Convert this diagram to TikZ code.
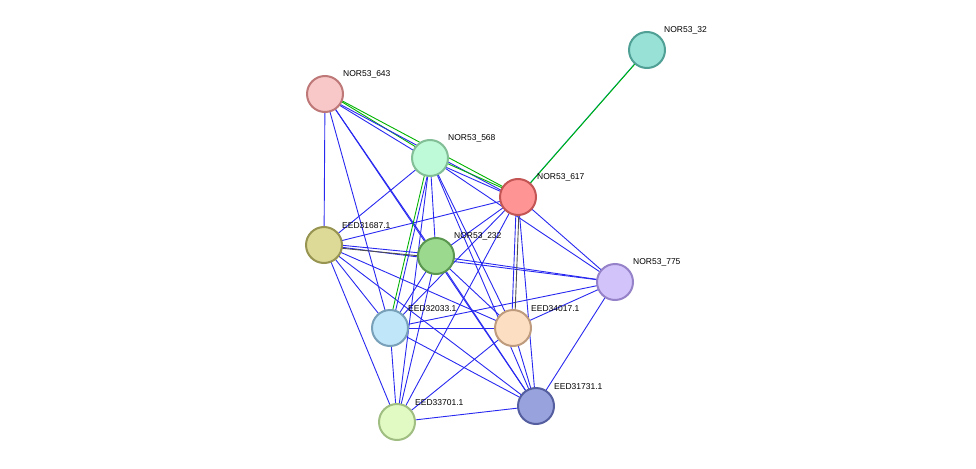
\documentclass[tikz,border=0pt]{standalone}
\usepackage{fontspec}
\setmainfont{Liberation Sans}
\begin{document}
\begin{tikzpicture}[x=1pt,y=-1pt,
 nd/.style={circle,minimum size=36pt,inner sep=0pt,line width=2pt},
 lb/.style={font=\fontsize{8.5}{9}\selectfont,anchor=south west,inner sep=1pt},
 e/.style={blue!85!white,line width=1pt}]
\useasboundingbox (0,0) rectangle (976,468);
\definecolor{bl}{RGB}{40,40,240}
\tikzset{e/.style={bl,line width=0.9pt}}
\coordinate (n32) at (647,50);
\coordinate (n643) at (325,94);
\coordinate (n568) at (430,158);
\coordinate (n617) at (518,197);
\coordinate (n687) at (324,245);
\coordinate (n232) at (436,256);
\coordinate (n775) at (615,282);
\coordinate (n033) at (390,328);
\coordinate (n017) at (513,328);
\coordinate (n731) at (536,406);
\coordinate (n701) at (397,422);
% edges
\foreach \a/\b in {643/687,643/232,643/033,643/731,568/687,568/232,568/701,568/017,568/731,568/775,617/687,617/232,617/033,617/731,617/775,617/701,687/775,687/033,687/017,687/731,687/701,232/775,232/033,232/017,232/731,232/701,775/033,775/017,775/731,033/017,033/731,033/701,017/701,017/731,701/731}
  \draw[e] (n\a) -- (n\b);
\draw[bl,line width=0.9pt,transform canvas={shift={(-1.5pt,-1.5pt)}}] (n643) -- (n568);
\draw[green!70!black,line width=0.9pt,transform canvas={shift={(1.5pt,1.5pt)}}] (n643) -- (n568);
\draw[bl,line width=0.9pt,transform canvas={shift={(-1.5pt,-1.5pt)}}] (n643) -- (n617);
\draw[green!70!black,line width=0.9pt,transform canvas={shift={(1.5pt,1.5pt)}}] (n643) -- (n617);
\draw[bl,line width=0.9pt,transform canvas={shift={(-1.5pt,-1.5pt)}}] (n568) -- (n617);
\draw[green!70!black,line width=0.9pt,transform canvas={shift={(1.5pt,1.5pt)}}] (n568) -- (n617);
\draw[cyan!80!blue,line width=0.9pt,transform canvas={shift={(-1.5pt,-1.5pt)}}] (n32) -- (n617);
\draw[green!70!black,line width=0.9pt,transform canvas={shift={(1.5pt,1.5pt)}}] (n32) -- (n617);
\draw[green!70!black,line width=0.9pt,transform canvas={shift={(-1.5pt,0pt)}}] (n568) -- (n033);
\draw[bl,line width=0.9pt,transform canvas={shift={(1.5pt,0pt)}}] (n568) -- (n033);
\draw[bl,line width=0.9pt,transform canvas={shift={(-1.5pt,0pt)}}] (n617) -- (n017);
\draw[black!70,line width=0.9pt,transform canvas={shift={(1.5pt,0pt)}}] (n617) -- (n017);
\draw[black!70,line width=0.9pt,transform canvas={shift={(0pt,-1.5pt)}}] (n687) -- (n232);
\draw[bl,line width=0.9pt,transform canvas={shift={(0pt,1.5pt)}}] (n687) -- (n232);
% nodes
\node[nd,fill={rgb,255:red,152;green,225;blue,215},draw={rgb,255:red,80;green,160;blue,150}] (a32) at (n32) {};
\node[nd,fill={rgb,255:red,248;green,200;blue,200},draw={rgb,255:red,190;green,120;blue,120}] (a643) at (n643) {};
\node[nd,fill={rgb,255:red,190;green,250;blue,215},draw={rgb,255:red,130;green,190;blue,150}] (a568) at (n568) {};
\node[nd,fill={rgb,255:red,255;green,148;blue,148},draw={rgb,255:red,195;green,85;blue,85}] (a617) at (n617) {};
\node[nd,fill={rgb,255:red,220;green,218;blue,150},draw={rgb,255:red,150;green,148;blue,80}] (a687) at (n687) {};
\node[nd,fill={rgb,255:red,155;green,218;blue,142},draw={rgb,255:red,90;green,150;blue,80}] (a232) at (n232) {};
\node[nd,fill={rgb,255:red,210;green,195;blue,250},draw={rgb,255:red,150;green,130;blue,200}] (a775) at (n775) {};
\node[nd,fill={rgb,255:red,192;green,230;blue,250},draw={rgb,255:red,120;green,160;blue,185}] (a033) at (n033) {};
\node[nd,fill={rgb,255:red,252;green,222;blue,195},draw={rgb,255:red,190;green,155;blue,125}] (a017) at (n017) {};
\node[nd,fill={rgb,255:red,152;green,162;blue,220},draw={rgb,255:red,85;green,95;blue,160}] (a731) at (n731) {};
\node[nd,fill={rgb,255:red,225;green,250;blue,195},draw={rgb,255:red,160;green,190;blue,130}] (a701) at (n701) {};
% labels
\node[lb] (l32) at (663,35) {NOR53\_32};
\node[lb] (l643) at (342,79) {NOR53\_643};
\node[lb] (l568) at (447,143) {NOR53\_568};
\node[lb] (l617) at (536,182) {NOR53\_617};
\node[lb] (l687) at (341,230) {EED31687.1};
\node[lb] (l232) at (453,241) {NOR53\_232};
\node[lb] (l775) at (632,267) {NOR53\_775};
\node[lb] (l033) at (407,313) {EED32033.1};
\node[lb] (l017) at (530,313) {EED34017.1};
\node[lb] (l731) at (553,391) {EED31731.1};
\node[lb] (l701) at (414,407) {EED33701.1};
\end{tikzpicture}
\end{document}
